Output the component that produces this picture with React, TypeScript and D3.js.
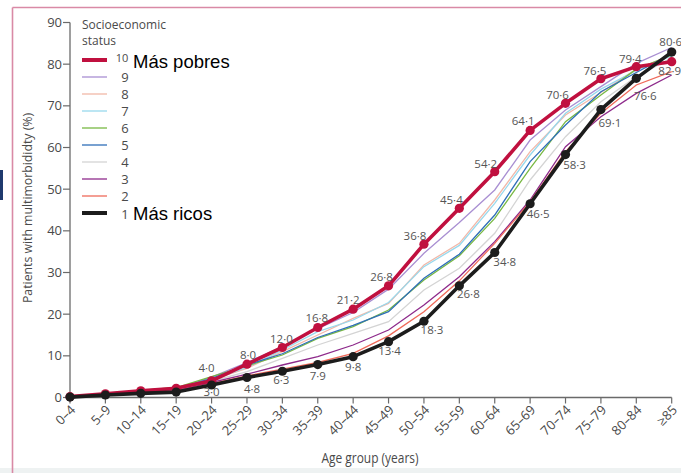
import React from "react";
import * as d3 from "d3";

// Age groups on the x axis
const ageGroups = [
  "0–4", "5–9", "10–14", "15–19", "20–24", "25–29", "30–34", "35–39", "40–44",
  "45–49", "50–54", "55–59", "60–64", "65–69", "70–74", "75–79", "80–84", "≥85",
];

// Prevalence of multimorbidity (%) by socioeconomic decile (10 = most deprived)
const decile10 = [0.2, 0.9, 1.6, 2.2, 4.0, 8.0, 12.0, 16.8, 21.2, 26.8, 36.8, 45.4, 54.2, 64.1, 70.6, 76.5, 79.4, 80.6];
const decile9 = [0.2, 0.9, 1.5, 2.1, 4.9, 8.4, 12.2, 16.5, 20.4, 26.0, 34.6, 42.0, 49.8, 61.8, 69.0, 74.6, 80.2, 84.0];
const decile8 = [0.2, 0.8, 1.4, 2.0, 4.2, 7.0, 11.0, 15.0, 19.0, 22.6, 31.8, 37.0, 47.4, 59.0, 67.8, 73.2, 78.8, 82.2];
const decile7 = [0.2, 0.8, 1.4, 2.0, 4.3, 7.2, 11.4, 15.8, 18.6, 22.8, 31.4, 36.5, 46.6, 58.2, 68.2, 74.0, 78.5, 82.0];
const decile6 = [0.2, 0.9, 1.7, 2.4, 5.0, 7.6, 10.2, 14.2, 17.0, 21.0, 28.2, 34.0, 43.0, 55.0, 66.2, 72.6, 78.8, 82.2];
const decile5 = [0.2, 0.8, 1.5, 2.1, 4.6, 7.8, 10.5, 14.4, 17.3, 20.6, 28.6, 34.4, 43.8, 56.6, 65.4, 73.4, 78.0, 82.5];
const decile4 = [0.2, 0.7, 1.3, 1.8, 3.9, 6.2, 9.4, 12.6, 15.4, 18.2, 25.8, 31.0, 39.4, 52.2, 62.6, 71.0, 77.0, 81.5];
const decile3 = [0.2, 0.7, 1.2, 1.6, 3.6, 5.6, 7.8, 9.8, 12.6, 16.2, 22.2, 29.0, 37.4, 47.4, 60.2, 67.4, 73.0, 77.4];
const decile2 = [0.1, 0.6, 1.1, 1.5, 3.3, 5.2, 6.8, 8.4, 10.6, 14.8, 20.6, 28.0, 37.0, 47.0, 59.0, 68.2, 75.0, 78.2];
const decile1 = [0.1, 0.6, 1.0, 1.3, 3.0, 4.8, 6.3, 7.9, 9.8, 13.4, 18.3, 26.8, 34.8, 46.5, 58.3, 69.1, 76.6, 82.9];

const yTicks = [0, 10, 20, 30, 40, 50, 60, 70, 80, 90];
const legendKeys = ["10", "9", "8", "7", "6", "5", "4", "3", "2", "1"];

// Index of the first age group whose value is printed for the extreme deciles
const firstLabelled = 4;

// Label offsets (dx, dy) from each point, from 20–24 onwards
const poorLabelOffsets: [number, number][] = [
  [-5, -13], [1, -9], [-1, -9], [-1, -10], [-5, -9], [-7, -9], [-9, -8],
  [-8, -8], [-9, -8], [-7, -9], [-8, -8], [-6, -8], [-6, -8], [-1, -20],
];
const richLabelOffsets: [number, number][] = [
  [0, 7], [5, 11], [-1, 9], [0, 11], [0, 10], [1, 9], [8, 9],
  [9, 8], [10, 9], [8, 10], [9, 10], [9, 13], [9, 18], [-2, 19],
];

const series = [
  { key: "9", values: decile9, color: "#a98fd2", width: 1.3 },
  { key: "8", values: decile8, color: "#f2b8a8", width: 1.3 },
  { key: "7", values: decile7, color: "#98d8ec", width: 1.3 },
  { key: "6", values: decile6, color: "#78b843", width: 1.3 },
  { key: "5", values: decile5, color: "#2f6fb8", width: 1.3 },
  { key: "4", values: decile4, color: "#d4d4d4", width: 1.3 },
  { key: "3", values: decile3, color: "#8e2a8b", width: 1.3 },
  { key: "2", values: decile2, color: "#ef6a5a", width: 1.3 },
];
const poor = { key: "10", values: decile10, color: "#c0103f", width: 3.6 };
const rich = { key: "1", values: decile1, color: "#1c1c1c", width: 3.6 };

const colorByKey: Record<string, string> = Object.fromEntries(
  [...series, poor, rich].map((s) => [s.key, s.color])
);

const FONT = "'Open Sans', 'DejaVu Sans', sans-serif";
const TEXT = "#4a4a4a";

const fmt = (v: number) => v.toFixed(1).replace(".", "·");

export default function App() {
  const x = d3.scalePoint<string>().domain(ageGroups).range([70, 671.7]);
  const y = d3.scaleLinear().domain([0, 90]).range([397.5, 22.5]);
  const line = d3
    .line<number>()
    .x((_, i) => x(ageGroups[i]) as number)
    .y((v) => y(v));

  const legendY = d3.scaleBand<string>().domain(legendKeys).range([51.5, 221.5]);

  return (
    <svg
      width={681}
      height={473}
      style={{ position: "absolute", left: 0, top: 0, background: "#fff" }}
      fontFamily={FONT}
    >
      {/* frame */}
      <rect x={0} y={468} width={681} height={5} fill="#eef2f2" />
      <line x1={12.5} y1={7.5} x2={681} y2={7.5} stroke="#d98aa6" strokeWidth={1.6} />
      <line x1={12.5} y1={7.5} x2={12.5} y2={473} stroke="#d98aa6" strokeWidth={1.6} />
      <rect x={0} y={170} width={3} height={30} fill="#1f3a6e" />

      {/* y axis */}
      <line x1={70} x2={70} y1={y(90)} y2={y(0)} stroke="#6a6a6a" strokeWidth={1.3} />
      {yTicks.map((t) => (
        <g key={t}>
          <line x1={63} x2={70} y1={y(t)} y2={y(t)} stroke="#6a6a6a" strokeWidth={1.2} />
          <text x={62} y={y(t)} dy="0.35em" textAnchor="end" fontSize={13} fill={TEXT}>
            {t}
          </text>
        </g>
      ))}
      <text
        transform={`translate(28,${208}) rotate(-90)`}
        textAnchor="middle"
        dy="0.35em"
        fontSize={12.5}
        fill={TEXT}
        textLength={190}
        lengthAdjust="spacingAndGlyphs"
      >
        Patients with multimorbididty (%)
      </text>

      {/* x axis */}
      <line x1={70} x2={671.7} y1={y(0)} y2={y(0)} stroke="#6a6a6a" strokeWidth={1.3} />
      {ageGroups.map((g) => {
        const gx = x(g) as number;
        return (
          <g key={g}>
            <line x1={gx} x2={gx} y1={y(0)} y2={y(0) + 6} stroke="#6a6a6a" strokeWidth={1.2} />
            <text
              transform={`translate(${gx + 3},${y(0) + 10}) rotate(-45)`}
              textAnchor="end"
              dy="0.35em"
              fontSize={13}
              fill={TEXT}
            >
              {g}
            </text>
          </g>
        );
      })}
      <text
        x={370}
        y={458}
        textAnchor="middle"
        dy="0.35em"
        fontSize={14}
        fill={TEXT}
        textLength={97}
        lengthAdjust="spacingAndGlyphs"
      >
        Age group (years)
      </text>

      {/* thin deciles */}
      {series.map((s) => (
        <path key={s.key} d={line(s.values) ?? ""} fill="none" stroke={s.color} strokeWidth={s.width} />
      ))}

      {/* extreme deciles with markers */}
      {[poor, rich].map((s) => (
        <g key={s.key}>
          <path d={line(s.values) ?? ""} fill="none" stroke={s.color} strokeWidth={s.width} strokeLinejoin="round" />
          {s.values.map((v, i) => (
            <circle key={i} cx={x(ageGroups[i]) as number} cy={y(v)} r={4.6} fill={s.color} />
          ))}
        </g>
      ))}

      {/* value labels */}
      {decile10.slice(firstLabelled).map((v, j) => {
        const i = j + firstLabelled;
        const [dx, dy] = poorLabelOffsets[j];
        return (
          <text
            key={`p${i}`}
            x={(x(ageGroups[i]) as number) + dx}
            y={y(v) + dy}
            dy="0.35em"
            textAnchor="middle"
            fontSize={11.5}
            fill="#555"
          >
            {fmt(v)}
          </text>
        );
      })}
      {decile1.slice(firstLabelled).map((v, j) => {
        const i = j + firstLabelled;
        const [dx, dy] = richLabelOffsets[j];
        return (
          <text
            key={`r${i}`}
            x={(x(ageGroups[i]) as number) + dx}
            y={y(v) + dy}
            dy="0.35em"
            textAnchor="middle"
            fontSize={11.5}
            fill="#555"
          >
            {fmt(v)}
          </text>
        );
      })}

      {/* legend */}
      <text x={82} y={29} fontSize={12} fill={TEXT}>Socioeconomic</text>
      <text x={82} y={45} fontSize={12} fill={TEXT}>status</text>
      {legendKeys.map((k) => {
        const ly = (legendY(k) as number) + legendY.bandwidth() / 2;
        const thick = k === "10" || k === "1";
        return (
          <g key={k}>
            <line
              x1={82}
              x2={107}
              y1={ly}
              y2={ly}
              stroke={colorByKey[k]}
              strokeWidth={thick ? 4 : 1.3}
            />
            <text
              x={k === "10" ? 122 : 125}
              y={ly + (k === "10" ? -2 : k === "1" ? 1 : 0)}
              dy="0.35em"
              textAnchor="middle"
              fontSize={k === "10" ? 11 : 13}
              fill={TEXT}
            >
              {k}
            </text>
          </g>
        );
      })}
      <text x={133} y={68} fontSize={18.5} fontFamily="'Liberation Sans', Arial, sans-serif" fill="#000">
        Más pobres
      </text>
      <text x={133} y={220} fontSize={18.5} fontFamily="'Liberation Sans', Arial, sans-serif" fill="#000">
        Más ricos
      </text>
    </svg>
  );
}
